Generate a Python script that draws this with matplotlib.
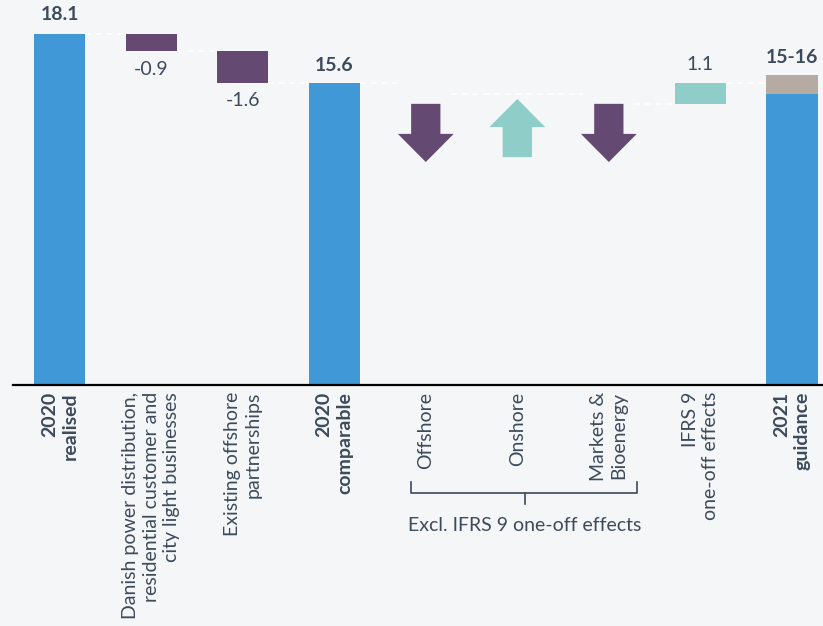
import numpy as np
import matplotlib
matplotlib.use("Agg")
import matplotlib.pyplot as plt

plt.rcParams['font.family'] = ['Lato', 'DejaVu Sans']

# data (EBITDA, DKKbn)
categories = ["2020\nrealised",
              "Danish power distribution,\nresidential customer and\ncity light businesses",
              "Existing offshore\npartnerships",
              "2020\ncomparable",
              "Offshore", "Onshore", "Markets &\nBioenergy",
              "IFRS 9\none-off effects",
              "2021\nguidance"]
bold_cats = [0, 3, 8]
realised = 18.1
divest = [-0.9, -1.6]
comparable = 15.6
arrow_dir = [-1, 1, -1]          # offshore, onshore, markets (direction only)
arrow_levels = [15.0, 15.0, 14.5]  # running level after each arrow
ifrs = 1.1
guidance = (15, 16)

BLUE = "#4198d7"
PURPLE = "#644a72"
TEAL = "#8ecdc8"
GREY = "#b5aba3"
BG = "#f5f6f8"
TXT = "#3c4a5b"

fig = plt.figure(figsize=(8.23, 6.26), dpi=100, facecolor=BG)
ax = fig.add_axes([13 / 823, 1 - 385 / 626, 810 / 823, 385 / 626])
ax.set_facecolor(BG)
ax.set_xlim(-0.51, 8.34)
ax.set_ylim(0, 385 / 19.39)

w = 0.56
hw = w / 2

# blue totals
ax.bar(0, realised, w, color=BLUE)
ax.bar(3, comparable, w, color=BLUE)
ax.bar(8, guidance[0], w, color=BLUE)
ax.bar(8, guidance[1] - guidance[0], w, bottom=guidance[0], color=GREY)

# divestment steps
lvl = realised
for i, d in enumerate(divest):
    ax.bar(1 + i, d, w, bottom=lvl, color=PURPLE)
    ax.text(1 + i, lvl + d - 0.5, f"{d:.1f}", ha='center', va='top',
            fontsize=14, color=TXT)
    lvl += d

# arrows (symbolic)
for k, dr in enumerate(arrow_dir):
    x = 4 + k
    if dr < 0:
        y0, dy, col = comparable - 1.1, -3.0, PURPLE
    else:
        y0, dy, col = comparable - 3.85, 3.0, TEAL
    ax.arrow(x, y0, 0, dy, width=0.32, head_width=0.61, head_length=1.45,
             length_includes_head=True, color=col, lw=0)

# IFRS 9 bar
ifrs_base = arrow_levels[-1]
ax.bar(7, ifrs, w, bottom=ifrs_base, color=TEAL)
ax.text(7, ifrs_base + ifrs + 0.5, f"{ifrs:.1f}", ha='center', va='bottom',
        fontsize=14, color=TXT)

# value labels on totals
ax.text(0, realised + 0.55, f"{realised:.1f}", ha='center', va='bottom',
        fontsize=14, fontweight='bold', color=TXT)
ax.text(3, comparable + 0.45, f"{comparable:.1f}", ha='center', va='bottom',
        fontsize=14, fontweight='bold', color=TXT)
ax.text(8, guidance[1] + 0.45, f"{guidance[0]}-{guidance[1]}", ha='center',
        va='bottom', fontsize=14, fontweight='bold', color=TXT)

# connector lines
dash = dict(color='white', lw=1.1, ls=(0, (4, 3)))
ax.hlines(realised, 0 + hw, 1 - hw, **dash)
ax.hlines(realised + divest[0], 1 + hw, 2 - hw, **dash)
ax.hlines(comparable, 2 + hw, 3 - hw, **dash)
ax.hlines(comparable, 3 + hw, 4 - hw, **dash)
ax.hlines(arrow_levels[0], 4 + hw, 5.72, **dash)
ax.hlines(arrow_levels[2], 6 + hw, 7 - hw, **dash)
ax.hlines(ifrs_base + ifrs, 7 + hw, 8 - hw, **dash)

# axis styling
for s in ['top', 'right', 'left']:
    ax.spines[s].set_visible(False)
ax.spines['bottom'].set_color('black')
ax.spines['bottom'].set_linewidth(1.6)
ax.set_yticks([])
ax.set_xticks(range(len(categories)))
ax.set_xticklabels(categories, rotation=90, ha='center', va='top',
                   multialignment='right', fontsize=14,
                   color=TXT, linespacing=1.25)
for i, t in enumerate(ax.get_xticklabels()):
    if i in bold_cats:
        t.set_fontweight('bold')
ax.tick_params(axis='x', length=0, pad=5)

# brace under the three segments
bx0, bx1, bxc = 3.84, 6.31, 5.08
yt, ym, yb = -5.0, -5.57, -6.14
ax.plot([bx0, bx0, bx1, bx1], [yt, ym, ym, yt], color=TXT, lw=1.2,
        clip_on=False, solid_joinstyle='round')
ax.plot([bxc, bxc], [ym, yb], color=TXT, lw=1.2, clip_on=False)
ax.text(bxc, -7.25, "Excl. IFRS 9 one-off effects", ha='center', va='center',
        fontsize=14, color=TXT)

fig.savefig("out.png", dpi=100, facecolor=BG)
